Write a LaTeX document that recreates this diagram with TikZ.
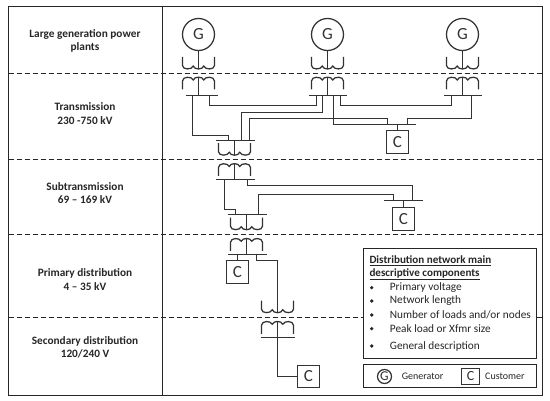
\documentclass[tikz,border=0pt]{standalone}
\usepackage{fontspec}
\setmainfont{Carlito}
\tikzset{
  x=1pt,y=-1pt,
  wire/.style={line width=1.25pt,draw=black!80},
  frameline/.style={line width=1.5pt,draw=black!85},
  levelline/.style={line width=1.4pt,draw=black!85,dash pattern=on 5.2pt off 2.8pt},
  gen/.style={circle,draw=black!80,line width=1.25pt,minimum size=32pt,inner sep=0pt,font=\fontsize{17}{17}\selectfont,text=black!80},
  cust/.style={rectangle,draw=black!80,line width=1.25pt,minimum width=22pt,minimum height=23pt,inner sep=0pt,font=\fontsize{17}{17}\selectfont,text=black!80},
  level/.style={align=center,font=\fontsize{11.3}{13.4}\selectfont\bfseries,text=black!85,inner sep=0pt},
  legend/.style={anchor=west,inner sep=0pt,font=\fontsize{11.3}{12}\selectfont,text=black!85},
  panel/.style={draw=black!85,fill=white,line width=1.4pt,minimum width=173pt,inner sep=0pt},
  bulletmark/.style={circle,fill=black!85,minimum size=3.6pt,inner sep=0pt},
  pics/wdown/.style={code={
    \draw[wire] (-16,0) -- (-16,8.5) .. controls (-16,13) and (-6.5,13) .. (-5.3,9)
      .. controls (-4,13) and (4,13) .. (5.3,9) .. controls (6.5,13) and (16,13) .. (16,8.5) -- (16,0);}},
  pics/wup/.style={code={
    \draw[wire] (-16,12.5) -- (-16,4) .. controls (-16,-0.8) and (-6.5,-0.8) .. (-5.3,3)
      .. controls (-4,-0.8) and (4,-0.8) .. (5.3,3) .. controls (6.5,-0.8) and (16,-0.8) .. (16,4) -- (16,12.5);}},
}
\begin{document}
\begin{tikzpicture}
\useasboundingbox (0,0) rectangle (550,401);
% frame and level lines
\coordinate (fTL) at (8.5,6.5); \coordinate (fBR) at (542.5,395.5);
\coordinate (vT) at (162.5,6.5); \coordinate (vB) at (162.5,395.5);
\draw[frameline] (fTL) rectangle (fBR);
\draw[frameline] (vT) -- (vB);
\foreach \yy in {73.5,159.5,234.5,317.5}{\draw[levelline] (8.5,\yy) -- (542.5,\yy);}
% level labels
\node[level] (l1) at (85,41) {Large generation power\\plants};
\node[level] (l2) at (85,113.5) {Transmission\\230 -750 kV};
\node[level] (l3) at (85,193) {Subtransmission\\69 – 169 kV};
\node[level] (l4) at (85,279.5) {Primary distribution\\4 – 35 kV};
\node[level] (l5) at (85,347) {Secondary distribution\\120/240 V};
% generators
\node[gen] (g1) at (198.5,34.5) {G};
\node[gen] (g2) at (327.5,34.5) {G};
\node[gen] (g3) at (462.5,34.5) {G};
% step-up transformers
\foreach \nn/\cx/\bl/\br in {1/198.5/185.5/217.5,2/327.5/308.5/346.5,3/462.5/443.5/481.5}{
  \pic at (\cx,57) {wdown};
  \pic at (\cx,77) {wup};
  \coordinate (hv\nn) at (\cx,69);
  \coordinate (lv\nn) at (\cx,77);
  \coordinate (bus\nn) at (\cx,95.5);
  \draw[wire] (\bl,95.5) -- (\br,95.5);
  \draw[wire] (g\nn) -- (hv\nn);
  \draw[wire] (lv\nn) -- (bus\nn);
}
% load C1
\node[cust] (c1) at (397.5,142) {C};
\coordinate (c1bus) at (397.5,124.5);
\draw[wire] (376.5,124.5) -- (415.5,124.5);
\draw[wire] (c1bus) -- (c1);
\draw[wire] (192.5,95.5) |- (228.5,135.5) -- (228.5,140.5);
\draw[wire] (209.5,95.5) |- (316.5,105.5) -- (316.5,95.5);
\draw[wire] (322.5,95.5) |- (241.5,112.5) -- (241.5,140.5);
\draw[wire] (249.5,140.5) |- (387.5,118.5) -- (387.5,124.5);
\draw[wire] (333.5,95.5) |- (c1bus);
\draw[wire] (340.5,95.5) |- (451.5,105.5) -- (451.5,95.5);
\draw[wire] (471.5,95.5) |- (407.5,118.5) -- (407.5,124.5);
% transmission / subtransmission transformer
\pic at (234.5,143.2) {wdown};
\pic at (234.5,163.5) {wup};
\coordinate (ta) at (234.5,140.5); \coordinate (tb) at (234.5,155);
\coordinate (tc) at (234.5,163.5); \coordinate (td) at (234.5,179.5);
\draw[wire] (215.5,140.5) -- (254.5,140.5);
\draw[wire] (215.5,179.5) -- (254.5,179.5);
\draw[wire] (ta) -- (tb);
\draw[wire] (tc) -- (td);
% load C2
\node[cust] (c2) at (403.5,219) {C};
\coordinate (c2bus) at (403.5,200.5);
\draw[wire] (383.5,200.5) -- (422.5,200.5);
\draw[wire] (c2bus) -- (c2);
\draw[wire] (224.5,179.5) |- (235.5,209.5) -- (235.5,214.5);
\draw[wire] (247.5,179.5) |- (412.5,185.5) -- (412.5,200.5);
\draw[wire] (258.5,214.5) |- (393.5,194.5) -- (393.5,200.5);
% subtransmission / primary transformer
\pic at (246.5,217.7) {wdown};
\pic at (246.5,238.3) {wup};
\coordinate (ua) at (246.5,214.5); \coordinate (ub) at (246.5,229.5);
\coordinate (uc) at (246.5,238.3); \coordinate (ud) at (246.5,254.5);
\draw[wire] (227.5,214.5) -- (266.5,214.5);
\draw[wire] (227.5,254.5) -- (266.5,254.5);
\draw[wire] (ua) -- (ub);
\draw[wire] (uc) -- (ud);
% load C3
\node[cust] (c3) at (237.5,272) {C};
\draw[wire] (237.5,254.5) -- (c3);
% distribution transformer
\pic at (277.5,300.7) {wdown};
\pic at (277.5,321.3) {wup};
\coordinate (va) at (277.5,312.5); \coordinate (vb) at (277.5,321.3);
\coordinate (vc) at (277.5,337.5);
\draw[wire] (260.5,337.5) -- (294.5,337.5);
\draw[wire] (256.5,254.5) -- (256.5,260.5) -| (va);
\draw[wire] (vb) -- (vc);
% load C4
\node[cust,minimum height=22pt] (c4) at (308.5,376.5) {C};
\draw[wire] (vc) |- (c4);
% description box
\node[panel,minimum height=110pt] (box) at (450,303.5) {};
\node[legend,font=\fontsize{11.1}{12}\selectfont\bfseries] (h1) at (369.3,261) {\underline{Distribution network main}};
\node[legend,font=\fontsize{11.1}{12}\selectfont\bfseries] (h2) at (369.3,274.3) {\underline{descriptive components}};
\foreach \nn/\yy/\ttext in {a/287.7/{Primary voltage},b/301/{Network length},c/315/{Number of loads and{/}or nodes},d/328.7/{Peak load or Xfmr size},e/346/{General description}}{
  \node[bulletmark] (b\nn) at (371.7,\yy) {};
  \node[legend] (t\nn) at (389.7,\yy) {\ttext};
}
% legend box
\node[panel,minimum height=23pt] (key) at (450,376) {};
\node[gen,minimum size=14pt,font=\fontsize{13.5}{13.5}\selectfont] (kg) at (384.5,376.5) {G};
\node[cust,minimum width=18pt,minimum height=16pt,font=\fontsize{14}{14}\selectfont] (kc) at (470.5,376.5) {C};
\node[legend,font=\fontsize{10}{11}\selectfont] (kgt) at (401.7,376.7) {Generator};
\node[legend,font=\fontsize{10}{11}\selectfont] (kct) at (485,376.7) {Customer};
\end{tikzpicture}
\end{document}
